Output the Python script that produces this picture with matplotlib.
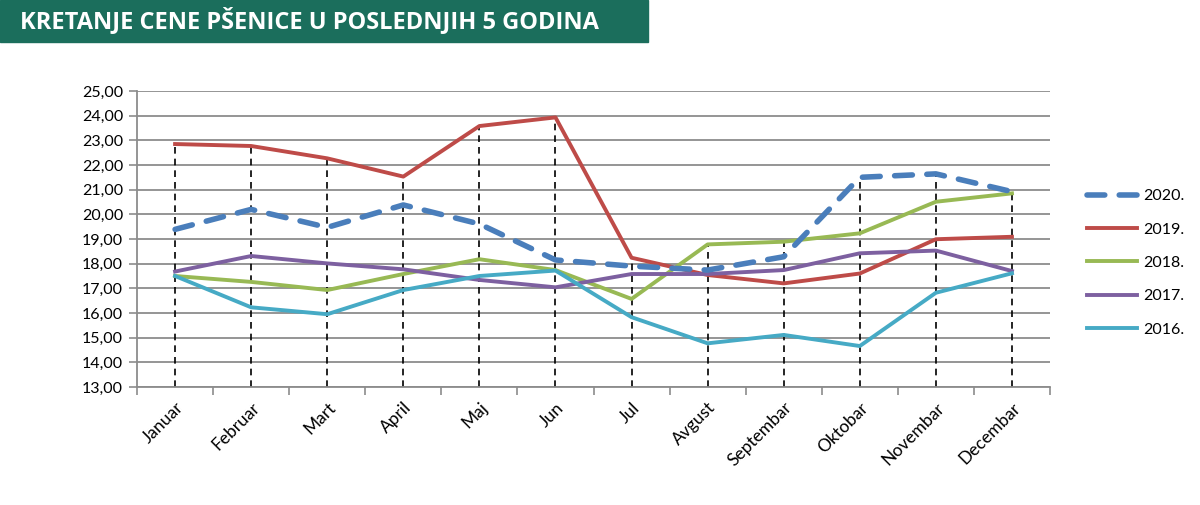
import matplotlib
matplotlib.use("Agg")
import matplotlib.pyplot as plt
import numpy as np
from matplotlib.patches import Rectangle

# podaci
meseci = ["Januar", "Februar", "Mart", "April", "Maj", "Jun", "Jul",
          "Avgust", "Septembar", "Oktobar", "Novembar", "Decembar"]
c2020 = [19.39, 20.20, 19.47, 20.38, 19.61, 18.15, 17.90, 17.74, 18.28, 21.50, 21.64, 20.92]
c2019 = [22.85, 22.77, 22.27, 21.53, 23.58, 23.93, 18.24, 17.54, 17.20, 17.60, 18.99, 19.09]
c2018 = [17.50, 17.26, 16.93, 17.58, 18.18, 17.74, 16.57, 18.78, 18.89, 19.23, 20.51, 20.85]
c2017 = [17.68, 18.31, 18.01, 17.77, 17.34, 17.04, 17.58, 17.58, 17.74, 18.42, 18.53, 17.70]
c2016 = [17.50, 16.23, 15.95, 16.93, 17.50, 17.72, 15.83, 14.77, 15.11, 14.66, 16.82, 17.61]
godine = ["2020.", "2019.", "2018.", "2017.", "2016."]
boje = ["#4a7ebb", "#be4b48", "#98b954", "#7d60a0", "#46aac5"]

plt.rcParams["font.family"] = ["Lato", "DejaVu Sans"]

fig = plt.figure(figsize=(12, 5.05), dpi=100)
ax = fig.add_axes([0.1142, 0.2337, 0.7608, 0.5861])

x = np.arange(len(meseci))
serije = [c2020, c2019, c2018, c2017, c2016]

# drop lines od najvise tacke do ose
vrh = np.max(np.array(serije), axis=0)
ax.vlines(x, 13, vrh, colors="black", linestyles=(0, (4, 3)), lw=1.2, zorder=2)

for vals, lab, col in zip(serije, godine, boje):
    if lab == "2020.":
        ax.plot(x, vals, color=col, lw=4, ls=(0, (3.2, 2.6)), label=lab,
                solid_capstyle="round", dash_capstyle="round", zorder=4)
    else:
        ax.plot(x, vals, color=col, lw=2.8, label=lab, zorder=3)

ax.set_xlim(-0.5, 11.5)
ax.set_ylim(13, 25)
ax.set_yticks(np.arange(13, 26))
ax.set_yticklabels([f"{v},00" for v in range(13, 26)], fontsize=11.5)
ax.grid(axis="y", color="#8c8c8c", lw=1.3)
ax.set_axisbelow(True)

ax.set_xticks(x)
ax.set_xticklabels(meseci, rotation=45, ha="right", rotation_mode="anchor", fontsize=12.5)
ax.set_xticks(np.arange(-0.5, 12, 1), minor=True)
ax.tick_params(axis="x", which="major", length=0, pad=9)
ax.tick_params(axis="x", which="minor", length=6, color="#8c8c8c", width=1.2)
ax.tick_params(axis="y", length=6, color="#8c8c8c", width=1.2, pad=4)

for s in ["top", "right"]:
    ax.spines[s].set_visible(False)
for s in ["left", "bottom"]:
    ax.spines[s].set_color("#8c8c8c")
    ax.spines[s].set_linewidth(1.3)

ax.legend(loc="upper left", bbox_to_anchor=(1.025, 0.717), frameon=False,
          fontsize=11.5, handlelength=3.1, labelspacing=1.2, handletextpad=0.4)

# naslov u zelenom pravougaoniku
fig.patches.append(Rectangle((0, 1 - 42 / 505), 648 / 1200, 42 / 505,
                             transform=fig.transFigure, color="#1b6e5c", zorder=0))
fig.text(20 / 1200, 1 - 21 / 505, "KRETANJE CENE PŠENICE U POSLEDNJIH 5 GODINA",
         color="white", fontsize=17, fontweight="bold", va="center",
         family=["Open Sans", "DejaVu Sans"])

fig.savefig("out.png", dpi=100)
